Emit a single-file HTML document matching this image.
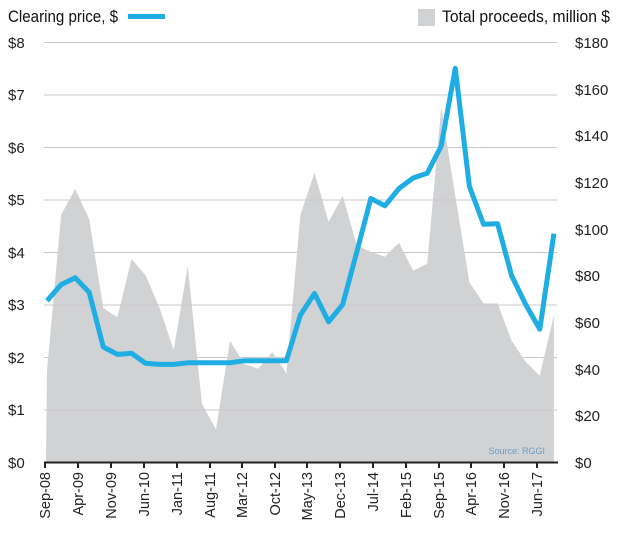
<!DOCTYPE html>
<html><head><meta charset="utf-8"><style>
body{margin:0;background:#fff;}
svg{display:block;font-family:"Liberation Sans",sans-serif;}
</style></head><body>
<svg id="s" width="625" height="534" viewBox="0 0 625 534" xmlns="http://www.w3.org/2000/svg">
<g stroke="#c8c8c8" stroke-width="1">
<line x1="44" x2="557" y1="42.5" y2="42.5"/><line x1="44" x2="557" y1="95" y2="95"/>
<line x1="44" x2="557" y1="147.5" y2="147.5"/><line x1="44" x2="557" y1="200" y2="200"/>
<line x1="44" x2="557" y1="252.5" y2="252.5"/><line x1="44" x2="557" y1="305" y2="305"/>
<line x1="44" x2="557" y1="357.5" y2="357.5"/><line x1="44" x2="557" y1="410" y2="410"/>
</g>
<polygon id="area" fill="#d1d2d4"/>
<g stroke="#c8c8c8" stroke-width="1" opacity="0.6">
<line x1="44" x2="557" y1="95" y2="95"/><line x1="44" x2="557" y1="200" y2="200"/>
<line x1="44" x2="557" y1="305" y2="305"/><line x1="44" x2="557" y1="410" y2="410"/>
</g>
<polyline id="price" fill="none" stroke="#1eaee3" stroke-width="5" stroke-linejoin="round"/>
<line x1="44" x2="558" y1="462.5" y2="462.5" stroke="#222" stroke-width="2"/>
<g id="ticks" stroke="#222" stroke-width="2"></g>
<g font-size="15" fill="#222">
<text x="8" y="48">$8</text><text x="8" y="100">$7</text><text x="8" y="153">$6</text>
<text x="8" y="205">$5</text><text x="8" y="258">$4</text><text x="8" y="310">$3</text>
<text x="8" y="363">$2</text><text x="8" y="415">$1</text><text x="8" y="468">$0</text>
<text x="575" y="48">$180</text><text x="575" y="95">$160</text><text x="575" y="141">$140</text>
<text x="575" y="188">$120</text><text x="575" y="235">$100</text><text x="575" y="281">$80</text>
<text x="575" y="328">$60</text><text x="575" y="375">$40</text><text x="575" y="421">$20</text>
<text x="575" y="468">$0</text>
</g>
<text x="8" y="22" font-size="17" fill="#111" textLength="110" lengthAdjust="spacingAndGlyphs">Clearing price, $</text>
<rect x="128" y="14" width="37" height="5" fill="#1eaee3"/>
<rect x="418" y="9" width="17" height="17" fill="#d1d2d4"/>
<text x="442" y="22" font-size="17" fill="#111" textLength="168" lengthAdjust="spacingAndGlyphs">Total proceeds, million $</text>
<text x="545" y="454" font-size="9" fill="#6a9cc4" text-anchor="end">Source: RGGI</text>
<g font-size="14.5" fill="#222" text-anchor="end">
<text transform="translate(50,472) rotate(-90)">Sep-08</text>
<text transform="translate(83,472) rotate(-90)">Apr-09</text>
<text transform="translate(116,472) rotate(-90)">Nov-09</text>
<text transform="translate(149,472) rotate(-90)">Jun-10</text>
<text transform="translate(182,472) rotate(-90)">Jan-11</text>
<text transform="translate(215,472) rotate(-90)">Aug-11</text>
<text transform="translate(247,472) rotate(-90)">Mar-12</text>
<text transform="translate(280,472) rotate(-90)">Oct-12</text>
<text transform="translate(312,472) rotate(-90)">May-13</text>
<text transform="translate(345,472) rotate(-90)">Dec-13</text>
<text transform="translate(378,472) rotate(-90)">Jul-14</text>
<text transform="translate(411,472) rotate(-90)">Feb-15</text>
<text transform="translate(444,472) rotate(-90)">Sep-15</text>
<text transform="translate(476,472) rotate(-90)">Apr-16</text>
<text transform="translate(509,472) rotate(-90)">Nov-16</text>
<text transform="translate(542,472) rotate(-90)">Jun-17</text>
</g>
</svg>
<script>
var p=[3.07,3.38,3.51,3.23,2.19,2.05,2.07,1.88,1.86,1.86,1.89,1.89,1.89,1.89,1.93,1.93,1.93,1.93,2.80,3.21,2.67,3.00,4.00,5.02,4.88,5.21,5.41,5.50,6.02,7.50,5.25,4.53,4.54,3.55,3.00,2.53,4.35];
var v=[39,106,117,104,66,62,87,80,66,48,84,25,14,52,42,40,47,38,106,124,103,114,93,90,88,94,82,85,152,114,77,68,68,52,43,37,63];
function X(i){return 47+i*14.08;}
var a=[],b=["46,462"];
for(var i=0;i<37;i++){a.push(X(i).toFixed(1)+","+(462-52.5*p[i]).toFixed(1));b.push(X(i).toFixed(1)+","+(462-2.333*v[i]).toFixed(1));}
b.push(X(36).toFixed(1)+",462");
document.getElementById("price").setAttribute("points",a.join(" "));
document.getElementById("area").setAttribute("points",b.join(" "));
var t=[45,78,111,144,177,210,242,275,307,340,373,406,439,471,504,537],h="";
t.forEach(function(x){h+='<line x1="'+x+'" x2="'+x+'" y1="462" y2="468"/>';});
document.getElementById("ticks").innerHTML=h;
</script>
</body></html>
